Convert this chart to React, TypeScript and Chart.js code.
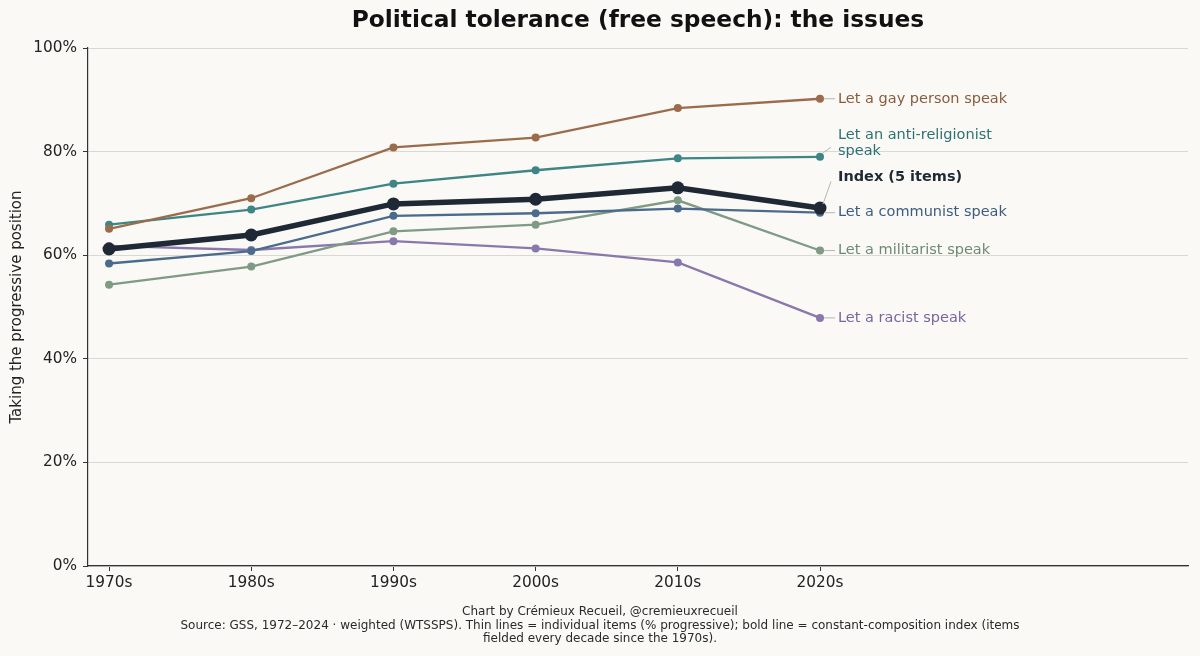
import React, { useEffect, useRef } from "react";
import { Chart, registerables } from "chart.js";

Chart.register(...registerables);

const decades = ["1970s", "1980s", "1990s", "2000s", "2010s", "2020s"];
const indexSeries = [61.2, 63.9, 69.9, 70.8, 73.0, 69.1];
const gaySeries = [65.1, 71.0, 80.8, 82.7, 88.4, 90.2];
const antiReligionSeries = [65.9, 68.8, 73.8, 76.4, 78.7, 79.0];
const communistSeries = [58.4, 60.8, 67.6, 68.1, 69.0, 68.2];
const militaristSeries = [54.3, 57.8, 64.6, 65.9, 70.6, 60.9];
const racistSeries = [61.8, 61.0, 62.7, 61.3, 58.6, 47.9];
const yTicks = [0, 20, 40, 60, 80, 100];

const BG = "#faf9f6";
const FONT = "'DejaVu Sans', sans-serif";

type Series = {
  name: string;
  values: number[];
  line: string;
  text: string;
  bold?: boolean;
  width: number;
  radius: number;
};

const series: Series[] = [
  { name: "Index (5 items)", values: indexSeries, line: "#1f2935", text: "#1f2935", bold: true, width: 5.5, radius: 6.5 },
  { name: "Let a gay person speak", values: gaySeries, line: "#9a6c4c", text: "#8a5c3c", width: 2.3, radius: 4 },
  { name: "Let an anti-religionist\nspeak", values: antiReligionSeries, line: "#3e8585", text: "#2d7272", width: 2.3, radius: 4 },
  { name: "Let a communist speak", values: communistSeries, line: "#4b6b8c", text: "#3d5d7f", width: 2.3, radius: 4 },
  { name: "Let a militarist speak", values: militaristSeries, line: "#7f9a85", text: "#6d8a73", width: 2.3, radius: 4 },
  { name: "Let a racist speak", values: racistSeries, line: "#8878ab", text: "#7866a0", width: 2.3, radius: 4 },
];

// label anchor (value where the label text is centred); null = same as last point
const labelAnchors: (number | null)[] = [75.0, null, 81.6, null, null, null];

const labelPlugin = {
  id: "endLabels",
  afterDatasetsDraw(chart: any) {
    const ctx = chart.ctx;
    const xs = chart.scales.x;
    const ys = chart.scales.y;
    ctx.save();
    series.forEach((s, i) => {
      const last = s.values[s.values.length - 1];
      const px = xs.getPixelForValue(s.values.length - 1);
      const py = ys.getPixelForValue(last);
      const anchor = labelAnchors[i];
      const ty = anchor === null ? py : ys.getPixelForValue(anchor);
      const tx = px + 18;
      ctx.strokeStyle = "#b5b5b5";
      ctx.lineWidth = 1;
      ctx.beginPath();
      if (anchor === null) {
        ctx.moveTo(px + 4, py);
        ctx.lineTo(tx - 3, py);
      } else {
        ctx.moveTo(px + 3, py - 4);
        ctx.lineTo(tx - 7, ty + 4);
      }
      ctx.stroke();
      ctx.fillStyle = s.text;
      ctx.font = `${s.bold ? "bold " : ""}14.5px ${FONT}`;
      ctx.textAlign = "left";
      ctx.textBaseline = "middle";
      const lines = s.name.split("\n");
      const lh = 16;
      const y0 = ty - ((lines.length - 1) * lh) / 2;
      lines.forEach((l, k) => ctx.fillText(l, tx, y0 + k * lh));
    });
    ctx.restore();
  },
};

const textPlugin = {
  id: "titles",
  beforeDraw(chart: any) {
    const ctx = chart.ctx;
    ctx.save();
    ctx.fillStyle = BG;
    ctx.fillRect(0, 0, chart.width, chart.height);
    ctx.restore();
  },
  afterDraw(chart: any) {
    const ctx = chart.ctx;
    const area = chart.chartArea;
    ctx.save();
    ctx.fillStyle = "#111111";
    ctx.font = `bold 23.3px ${FONT}`;
    ctx.textAlign = "center";
    ctx.textBaseline = "middle";
    ctx.fillText("Political tolerance (free speech): the issues", (area.left + area.right) / 2, 21);
    ctx.fillStyle = "#2a2a2a";
    ctx.font = `12px ${FONT}`;
    const foot = [
      "Chart by Crémieux Recueil, @cremieuxrecueil",
      "Source: GSS, 1972–2024 · weighted (WTSSPS). Thin lines = individual items (% progressive); bold line = constant-composition index (items",
      "fielded every decade since the 1970s).",
    ];
    foot.forEach((t, k) => ctx.fillText(t, chart.width / 2, 612 + k * 13.5));
    ctx.restore();
  },
};

export default function App() {
  const ref = useRef<HTMLCanvasElement>(null);
  useEffect(() => {
    document.body.style.margin = "0";
    document.body.style.background = BG;
    const chart = new Chart(ref.current!, {
      type: "line",
      data: {
        datasets: series.map((s) => ({
          label: s.name,
          data: s.values.map((v, i) => ({ x: i, y: v })),
          borderColor: s.line,
          backgroundColor: s.line,
          borderWidth: s.width,
          pointRadius: s.radius,
          pointHoverRadius: s.radius,
          pointBorderWidth: 0,
          tension: 0,
        })),
      },
      options: {
        animation: false,
        responsive: false,
        devicePixelRatio: 1,
        layout: { padding: { top: 48, right: 12, left: 0, bottom: 0 } },
        plugins: {
          legend: { display: false },
          tooltip: { enabled: false },
          title: { display: false },
        },
        scales: {
          x: {
            type: "linear",
            min: -0.148,
            max: 7.588,
            afterBuildTicks: (scale: any) => {
              scale.ticks = decades.map((_, i) => ({ value: i }));
            },
            afterFit: (scale: any) => {
              scale.height = 90;
            },
            ticks: {
              autoSkip: false,
              maxRotation: 0,
              padding: 3,
              color: "#222222",
              font: { family: FONT, size: 15.3 },
              callback: (v: any) => decades[v] ?? "",
            },
            grid: { drawOnChartArea: false, drawTicks: true, tickLength: 5, tickColor: "#333333" },
            border: { display: true, color: "#333333", width: 1.2 },
          },
          y: {
            min: 0,
            max: 100,
            afterBuildTicks: (scale: any) => {
              scale.ticks = yTicks.map((v) => ({ value: v }));
            },
            afterFit: (scale: any) => {
              scale.width = 88;
            },
            ticks: {
              padding: 6,
              color: "#222222",
              font: { family: FONT, size: 15.3 },
              callback: (v: any) => `${v}%`,
            },
            title: {
              display: true,
              text: "Taking the progressive position",
              color: "#222222",
              font: { family: FONT, size: 15 },
              padding: { top: 8, bottom: 0 },
            },
            grid: { color: "#dad8d3", lineWidth: 1, drawTicks: true, tickLength: 5, tickColor: "#333333" },
            border: { display: true, color: "#333333", width: 1.2 },
          },
        },
      },
      plugins: [textPlugin, labelPlugin],
    });
    return () => chart.destroy();
  }, []);
  return (
    <div style={{ width: 1200, height: 656, background: BG }}>
      <canvas ref={ref} width={1200} height={656} style={{ display: "block" }} />
    </div>
  );
}
